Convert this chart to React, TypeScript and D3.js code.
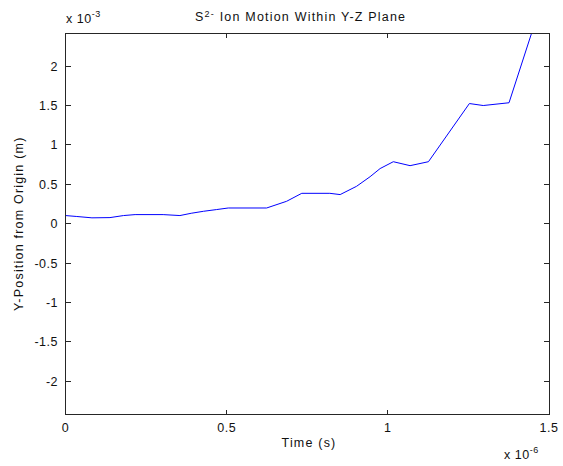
import React from "react";
import * as d3 from "d3";

// Time (in units of 1e-6 s) and Y position (in units of 1e-3 m)
const timeValues = [
  0, 0.035, 0.082, 0.138, 0.18, 0.216, 0.303, 0.355, 0.39, 0.428, 0.469, 0.505,
  0.624, 0.686, 0.733, 0.82, 0.852, 0.903, 0.945, 0.976, 1.017, 1.069, 1.126,
  1.253, 1.296, 1.376, 1.5,
];
const yValues = [
  0.104, 0.092, 0.075, 0.078, 0.104, 0.116, 0.116, 0.104, 0.133, 0.158, 0.18, 0.2,
  0.2, 0.285, 0.386, 0.386, 0.37, 0.475, 0.597, 0.7, 0.787, 0.737, 0.787,
  1.525, 1.5, 1.535, 3.1,
];
const xTicks = [0, 0.5, 1, 1.5];
const yTicks = [-2, -1.5, -1, -0.5, 0, 0.5, 1, 1.5, 2];

const W = 563;
const H = 466;
const M = { left: 65.5, right: 549, top: 33, bottom: 414.5 };
const FONT = "Liberation Sans, Arial, Helvetica, sans-serif";
const FS = 12.5;
const LS = 0.5;
const LABEL_LS = 1.2;

export default function App() {
  const x = d3.scaleLinear().domain([0, 1.5]).range([M.left, M.right]);
  const y = d3.scaleLinear().domain([-2.42, 2.42]).range([M.bottom, M.top]);
  const pts = timeValues.map((t, i) => [t, yValues[i]] as [number, number]);
  const line = d3
    .line<[number, number]>()
    .x((d) => x(d[0]))
    .y((d) => y(d[1]));
  const axisColor = "#262626";
  const tickLen = 5;
  const fmt = (v: number) => String(v);

  return (
    <svg
      width={W}
      height={H}
      style={{ position: "absolute", left: 0, top: 0, background: "#fff" }}
      fontFamily={FONT}
      letterSpacing={LS}
    >
      <defs>
        <clipPath id="plotClip">
          <rect x={M.left} y={M.top} width={M.right - M.left} height={M.bottom - M.top} />
        </clipPath>
      </defs>
      <rect x={0} y={0} width={W} height={H} fill="#fff" />
      <path
        d={line(pts) || ""}
        fill="none"
        stroke="#0000ff"
        strokeWidth={1}
        clipPath="url(#plotClip)"
      />
      <rect
        x={M.left}
        y={M.top}
        width={M.right - M.left}
        height={M.bottom - M.top}
        fill="none"
        stroke={axisColor}
        strokeWidth={1}
        shapeRendering="crispEdges"
      />
      {xTicks.map((t) => (
        <g key={"x" + t}>
          <line x1={x(t)} x2={x(t)} y1={M.bottom} y2={M.bottom - tickLen} stroke={axisColor} shapeRendering="crispEdges" />
          <line x1={x(t)} x2={x(t)} y1={M.top} y2={M.top + tickLen} stroke={axisColor} shapeRendering="crispEdges" />
          <text x={x(t)} y={432} fontSize={FS} textAnchor="middle" fill="#111">
            {fmt(t)}
          </text>
        </g>
      ))}
      {yTicks.map((v) => (
        <g key={"y" + v}>
          <line x1={M.left} x2={M.left + tickLen} y1={y(v)} y2={y(v)} stroke={axisColor} shapeRendering="crispEdges" />
          <line x1={M.right} x2={M.right - tickLen} y1={y(v)} y2={y(v)} stroke={axisColor} shapeRendering="crispEdges" />
          <text x={58} y={y(v) + 4.5} fontSize={FS} textAnchor="end" fill="#111">
            {fmt(v)}
          </text>
        </g>
      ))}
      <text x={66} y={23} fontSize={FS} fill="#111">
        x 10<tspan dy={-6} fontSize={9}>-3</tspan>
      </text>
      <text x={504} y={459} fontSize={FS} fill="#111">
        x 10<tspan dy={-6} fontSize={9}>-6</tspan>
      </text>
      <text x={195} y={21} fontSize={FS} fill="#111" letterSpacing={LABEL_LS}>
        S<tspan dy={-4.5} fontSize={9}>2-</tspan>
        <tspan dy={4.5}> Ion Motion Within Y-Z Plane</tspan>
      </text>
      <text x={309} y={447} fontSize={FS} textAnchor="middle" fill="#111" letterSpacing={LABEL_LS}>
        Time (s)
      </text>
      <text
        transform={`translate(23, ${(M.top + M.bottom) / 2}) rotate(-90)`}
        fontSize={FS}
        textAnchor="middle"
        fill="#111"
        letterSpacing={LABEL_LS}
      >
        Y-Position from Origin (m)
      </text>
    </svg>
  );
}
